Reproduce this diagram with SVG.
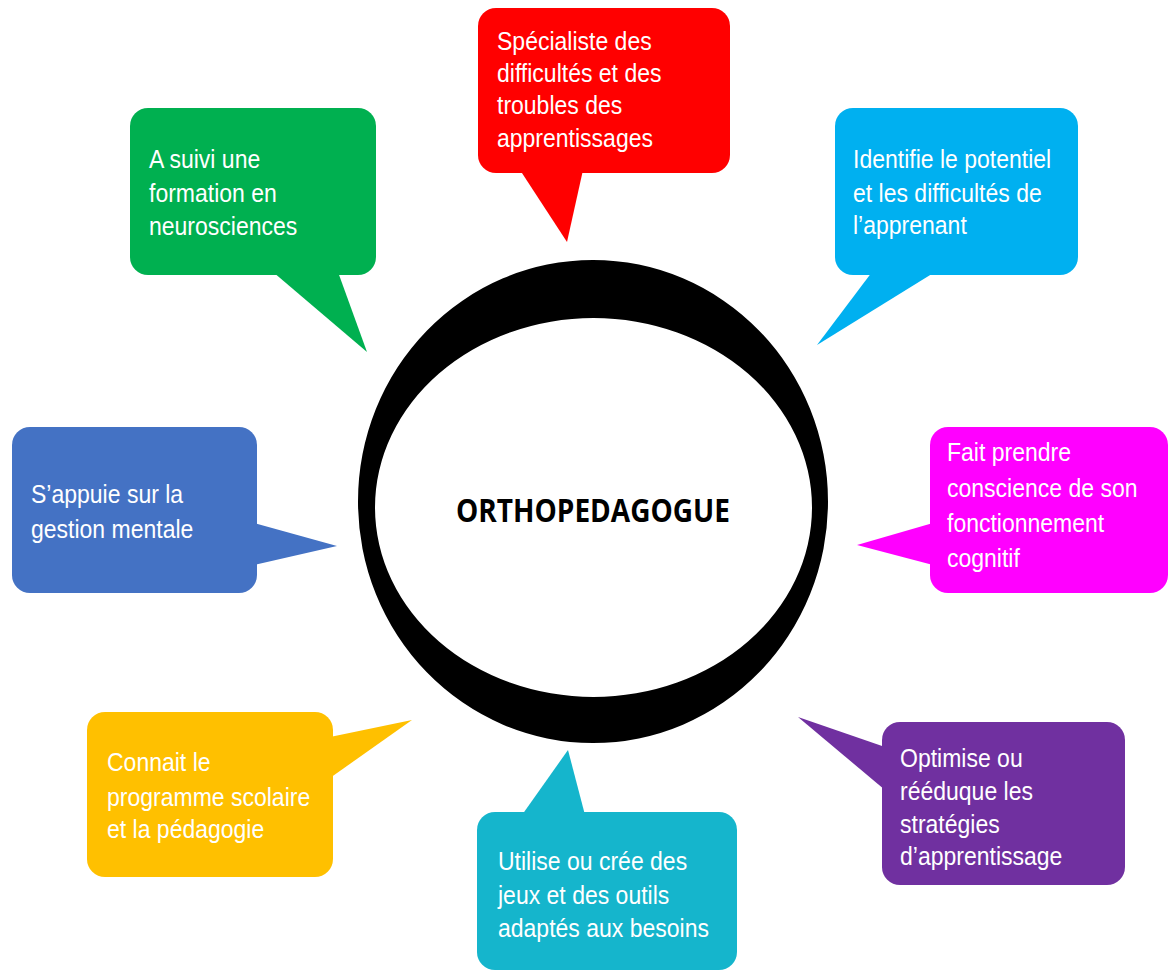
<svg xmlns="http://www.w3.org/2000/svg" width="1169" height="971" viewBox="0 0 1169 971">
<style>
.t{font-family:"Liberation Sans",Arial,sans-serif;font-size:25px;fill:#ffffff}
.c{font-family:"Open Sans","Liberation Sans",sans-serif;font-weight:bold;font-size:32px;fill:#000000}
</style>
<rect width="1169" height="971" fill="#ffffff"/>
<g id="connectors"></g>
<g id="center">
<path fill="#000000" fill-rule="evenodd" d="M358,501.5 A235,241.5 0 1,0 828,501.5 A235,241.5 0 1,0 358,501.5 Z M375,507.5 A218.5,189.5 0 1,1 812,507.5 A218.5,189.5 0 1,1 375,507.5 Z"/>
<text class="c" x="593" y="522" text-anchor="middle" textLength="274" lengthAdjust="spacingAndGlyphs">ORTHOPEDAGOGUE</text>
</g>
<g id="n-red">
<rect x="478" y="8" width="252" height="165" rx="18" fill="#FF0000"/>
<polygon points="520,170 583,170 567,242" fill="#FF0000"/>
<g transform="translate(497,0) scale(0.92,1)"><text class="t"><tspan x="0" y="50">Spécialiste des</tspan><tspan x="0" y="82">difficultés et des</tspan><tspan x="0" y="114">troubles des</tspan><tspan x="0" y="147">apprentissages</tspan></text></g>
</g>
<g id="n-green">
<rect x="130" y="108" width="246" height="167" rx="18" fill="#00B050"/>
<polygon points="273,272 338,272 367,352" fill="#00B050"/>
<g transform="translate(149,0) scale(0.92,1)"><text class="t"><tspan x="0" y="168">A suivi une</tspan><tspan x="0" y="202">formation en</tspan><tspan x="0" y="235">neurosciences</tspan></text></g>
</g>
<g id="n-lightblue">
<rect x="835" y="108" width="243" height="167" rx="18" fill="#00B0F0"/>
<polygon points="872,272 935,272 817,345" fill="#00B0F0"/>
<g transform="translate(853,0) scale(0.92,1)"><text class="t"><tspan x="0" y="168">Identifie le potentiel</tspan><tspan x="0" y="202">et les difficultés de</tspan><tspan x="0" y="234">l’apprenant</tspan></text></g>
</g>
<g id="n-darkblue">
<rect x="12" y="427" width="245" height="166" rx="18" fill="#4472C4"/>
<polygon points="254,523 254,565 337,546" fill="#4472C4"/>
<g transform="translate(31,0) scale(0.92,1)"><text class="t"><tspan x="0" y="503">S’appuie sur la</tspan><tspan x="0" y="538">gestion mentale</tspan></text></g>
</g>
<g id="n-magenta">
<rect x="930" y="427" width="238" height="166" rx="18" fill="#FF00FF"/>
<polygon points="933,523 933,565 857,545" fill="#FF00FF"/>
<g transform="translate(947,0) scale(0.92,1)"><text class="t"><tspan x="0" y="461">Fait prendre</tspan><tspan x="0" y="497">conscience de son</tspan><tspan x="0" y="532">fonctionnement</tspan><tspan x="0" y="567">cognitif</tspan></text></g>
</g>
<g id="n-yellow">
<rect x="87" y="712" width="246" height="165" rx="18" fill="#FFC000"/>
<polygon points="330,737 330,778 412,720" fill="#FFC000"/>
<g transform="translate(107,0) scale(0.92,1)"><text class="t"><tspan x="0" y="771">Connait le</tspan><tspan x="0" y="806">programme scolaire</tspan><tspan x="0" y="838">et la pédagogie</tspan></text></g>
</g>
<g id="n-teal">
<rect x="477" y="812" width="260" height="158" rx="18" fill="#15B5CC"/>
<polygon points="522,815 585,815 568,750" fill="#15B5CC"/>
<g transform="translate(498,0) scale(0.92,1)"><text class="t"><tspan x="0" y="870">Utilise ou crée des</tspan><tspan x="0" y="904">jeux et des outils</tspan><tspan x="0" y="937">adaptés aux besoins</tspan></text></g>
</g>
<g id="n-purple">
<rect x="882" y="722" width="243" height="163" rx="18" fill="#7030A0"/>
<polygon points="885,747 885,790 798,717" fill="#7030A0"/>
<g transform="translate(900,0) scale(0.92,1)"><text class="t"><tspan x="0" y="767">Optimise ou</tspan><tspan x="0" y="800">rééduque les</tspan><tspan x="0" y="833">stratégies</tspan><tspan x="0" y="865">d’apprentissage</tspan></text></g>
</g>
</svg>
